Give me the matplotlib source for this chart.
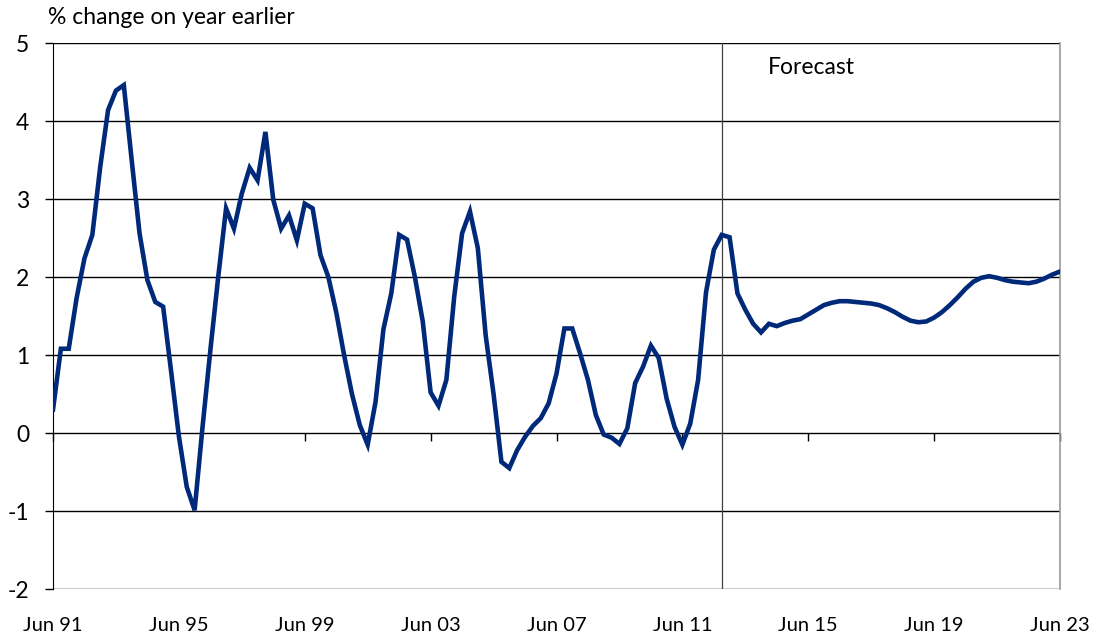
import matplotlib
matplotlib.use("Agg")
import matplotlib.pyplot as plt
import numpy as np

# quarterly % change on year earlier, Jun 91 .. Jun 23
values = [
    0.30, 1.08, 1.08, 1.73, 2.24, 2.54, 3.41, 4.14, 4.39, 4.46,
    3.50, 2.56, 1.96, 1.68, 1.62, 0.80, -0.04, -0.69, -0.99, 0.07,
    1.06, 2.00, 2.88, 2.62, 3.07, 3.40, 3.24, 3.86, 2.99, 2.62,
    2.79, 2.47, 2.94, 2.88, 2.28, 2.00, 1.55, 1.00, 0.50, 0.10,
    -0.15, 0.40, 1.33, 1.79, 2.54, 2.48, 2.00, 1.43, 0.52, 0.35,
    0.68, 1.75, 2.56, 2.84, 2.37, 1.25, 0.50, -0.37, -0.45, -0.22,
    -0.05, 0.09, 0.19, 0.38, 0.76, 1.34, 1.34, 1.02, 0.68, 0.23,
    -0.02, -0.06, -0.14, 0.06, 0.64, 0.85, 1.12, 0.96, 0.44, 0.08,
    -0.15, 0.12, 0.68, 1.80, 2.35, 2.54, 2.51, 1.79, 1.58, 1.40,
    1.29, 1.40, 1.37, 1.41, 1.44, 1.46, 1.52, 1.58, 1.64, 1.67,
    1.69, 1.69, 1.68, 1.67, 1.66, 1.64, 1.60, 1.55, 1.49, 1.44,
    1.42, 1.43, 1.48, 1.55, 1.64, 1.74, 1.85, 1.94, 1.99, 2.01,
    1.99, 1.96, 1.94, 1.93, 1.92, 1.94, 1.98, 2.03, 2.07,
]
tick_labels = ["Jun 91", "Jun 95", "Jun 99", "Jun 03", "Jun 07",
               "Jun 11", "Jun 15", "Jun 19", "Jun 23"]
forecast_start = 85  # Sep 12
y_ticks = [-2, -1, 0, 1, 2, 3, 4, 5]

plt.rcParams['font.family'] = ['Lato', 'DejaVu Sans']

fig = plt.figure(figsize=(10.99, 6.35), dpi=100)
ax = fig.add_axes([53 / 1099, 1 - 589 / 635, (1060 - 53) / 1099, (589 - 43) / 635])

x = np.arange(len(values))
ax.plot(x, values, color='#00297A', lw=3.3, solid_joinstyle='miter', zorder=3)

ax.set_xlim(0, len(values) - 1)
ax.set_ylim(-2, 5)
ax.set_yticks(y_ticks)
ax.set_yticklabels([str(v) for v in y_ticks], fontsize=16.5)
for v in y_ticks:
    ax.axhline(v, color='black', lw=1.0, zorder=1)

xt = np.arange(0, len(values), 16)
ax.set_xticks(xt)
ax.set_xticklabels(tick_labels, fontsize=14.5)
ax.tick_params(axis='x', length=0, pad=20)
ax.tick_params(axis='y', direction='out', length=6, width=1, pad=11, colors='black')

ax.axvline(forecast_start, color='#404040', lw=0.9, zorder=2)
ax.text(forecast_start + 5.9, 4.68, "Forecast", fontsize=16.5, va='center', ha='left')

for s in ['top', 'bottom']:
    ax.spines[s].set_visible(False)
ax.spines['left'].set_color('black')
ax.spines['right'].set_color('#999999')
ax.spines['right'].set_linewidth(1.2)

# category axis crossing at zero, ticks pointing down
sec = ax.secondary_xaxis(2 / 7)
sec.set_xticks(xt)
sec.set_xticklabels([])
sec.tick_params(direction='out', length=6, width=1)
sec.spines['bottom'].set_visible(False)

fig.text(48 / 1099, 1 - 18 / 635, "% change on year earlier", fontsize=16.5, va='center', ha='left')

fig.savefig("out.png", dpi=100)
